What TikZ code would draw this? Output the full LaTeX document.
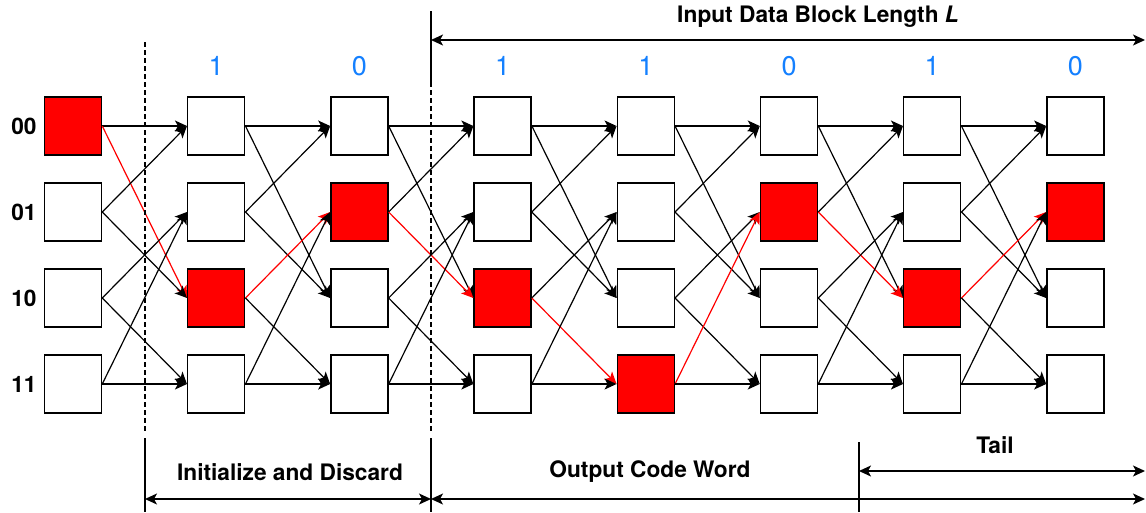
\documentclass[tikz,border=0pt]{standalone}
\usepackage{fontspec}
\setmainfont{TeX Gyre Heros}
\usetikzlibrary{arrows.meta}
\definecolor{bitblue}{RGB}{20,128,255}
\begin{document}
\begin{tikzpicture}[x=1pt,y=-1pt,
  state/.style={draw, line width=1.5pt, minimum width=57pt, minimum height=58pt, inner sep=0pt, fill=white},
  tip/.tip={Stealth[length=12pt,width=11pt,inset=3pt]},
  link/.style={-tip, line width=1.2pt},
  span/.style={tip-tip, line width=1.3pt},
  divider/.style={line width=1.2pt},
  lbl/.style={font=\bfseries\fontsize{22.7}{26}\selectfont},
  bit/.style={text=bitblue, font=\fontsize{27}{32}\selectfont},
]
\useasboundingbox (0,0) rectangle (1146,512);

% trellis states; the survivor path is filled red
\foreach \c/\p in {0/0,1/2,2/1,3/2,4/3,5/1,6/2,7/1} {
  \foreach \r in {0,...,3} {
    \ifnum\r=\p \def\fc{red}\else\def\fc{white}\fi
    \node[state, fill=\fc] (n\c\r) at ({73+143.2*\c},{126+86*\r}) {};
  }
}

% state labels
\foreach \r/\s in {0/00,1/01,2/10,3/11}
  \node[lbl] (s\r) at (24,{126+86*\r}) {\s};

% input bits
\foreach \c/\b in {1/1,2/0,3/1,4/1,5/0,6/1,7/0}
  \node[bit] (b\c) at ({73+143.2*\c},66) {\b};

% transitions between consecutive stages
\foreach \c/\p/\q in {0/0/2,1/2/1,2/1/2,3/2/3,4/3/1,5/1/2,6/2/1} {
  \pgfmathtruncatemacro\d{\c+1}
  \foreach \r in {0,...,3} {
    \pgfmathtruncatemacro\ta{\r<2 ? 0 : 1}
    \pgfmathtruncatemacro\tb{\ta+2}
    \foreach \tg in {\ta,\tb} {
      \ifnum\r=\p \ifnum\tg=\q \def\lc{red}\else\def\lc{black}\fi \else\def\lc{black}\fi
      \draw[link, draw=\lc] (n\c\r.east) -- (n\d\tg.west);
    }
  }
}

% section dividers
\coordinate (dA) at (145,42);
\coordinate (dAm) at (145,433);
\coordinate (dAb) at (145,438);
\coordinate (dAe) at (145,512);
\coordinate (dBt) at (431,11);
\coordinate (dB) at (431,82);
\coordinate (dBm) at (431,433);
\coordinate (dBb) at (431,438);
\coordinate (dBe) at (431,512);
\coordinate (dCt) at (859,442);
\coordinate (dCe) at (859,512);
\draw[divider, dash pattern=on 5pt off 3pt] (dA) -- (dAm);
\draw[divider, dash pattern=on 5pt off 3pt] (dB) -- (dBm);
\draw[divider] (dBt) -- (dB);
\draw[divider] (dAb) -- (dAe);
\draw[divider] (dBb) -- (dBe);
\draw[divider] (dCt) -- (dCe);

% spans
\coordinate (inL) at (431,40);
\coordinate (inR) at (1145,40);
\draw[span] (inL) -- (inR);
\node[lbl] (inT) at (818,17) {Input Data Block Length \textit{L}};

\coordinate (idL) at (145,499);
\coordinate (idR) at (431,499);
\draw[span] (idL) -- (idR);
\node[lbl] (idT) at (290,472) {Initialize and Discard};

\coordinate (ocL) at (431,499);
\coordinate (ocR) at (1145,499);
\draw[span] (ocL) -- (ocR);
\node[lbl] (ocT) at (650,472) {Output Code Word};

\coordinate (tlL) at (859,471);
\coordinate (tlR) at (1145,471);
\draw[span] (tlL) -- (tlR);
\node[lbl] (tlT) at (995,445) {Tail};
\end{tikzpicture}
\end{document}
